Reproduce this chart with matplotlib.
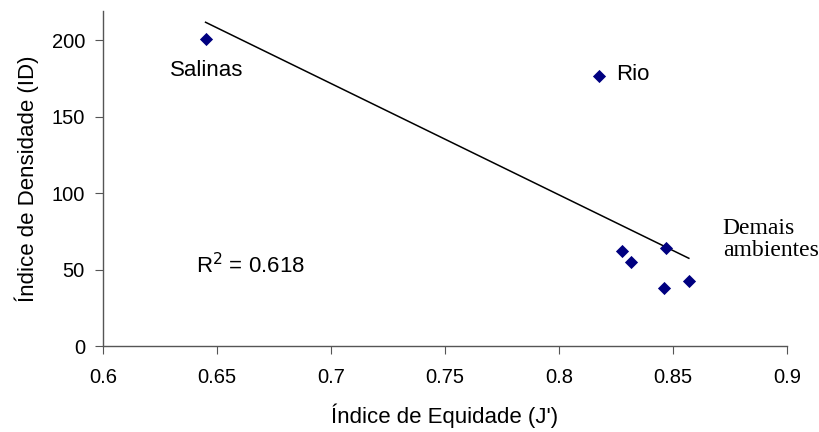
import numpy as np
import matplotlib
matplotlib.use("Agg")
import matplotlib.pyplot as plt

plt.rcParams['font.family'] = ['Liberation Sans', 'DejaVu Sans']

equidade = [0.645, 0.8175, 0.8276, 0.8316, 0.8469, 0.8463, 0.857]
densidade = [201, 176.5, 62.1, 55.1, 64.3, 37.9, 42.7]
r2_text = "R$^2$ = 0.618"
x_ticks = [0.6, 0.65, 0.7, 0.75, 0.8, 0.85, 0.9]
y_ticks = [0, 50, 100, 150, 200]

fig = plt.figure(figsize=(8.2, 4.32), dpi=100)
ax = fig.add_axes([0.1256, 0.199, 0.834, 0.7755])

ax.scatter(equidade, densidade, marker='D', s=45, color='#000080', zorder=3, linewidths=0)

x = np.array(equidade)
y = np.array(densidade)
m, b = np.polyfit(x, y, 1)
xs = np.linspace(x.min(), x.max(), 50)
ax.plot(xs, m * xs + b, color='black', lw=1.1, zorder=2)

ax.set_xlim(0.6, 0.9)
ax.set_ylim(0, 219)
ax.set_xticks(x_ticks)
ax.set_xticklabels([f"{v:g}" for v in x_ticks])
ax.set_yticks(y_ticks)
for s in ['top', 'right']:
    ax.spines[s].set_visible(False)
for s in ['left', 'bottom']:
    ax.spines[s].set_color('#555555')
    ax.spines[s].set_linewidth(1.0)
ax.tick_params(direction='out', length=6, color='#555555', labelsize=14.5)
ax.tick_params(axis='x', pad=10)
ax.tick_params(axis='y', pad=7)

ax.set_xlabel("Índice de Equidade (J')", fontsize=16, labelpad=12)
ax.set_ylabel("Índice de Densidade (ID)", fontsize=16, labelpad=9)

ax.text(0.6454, 180.4, "Salinas", fontsize=16, ha='center', va='center')
ax.text(0.825, 177.8, "Rio", fontsize=16, ha='left', va='center')
ax.text(0.8719, 69.5, "Demais\nambientes", fontsize=17, ha='left', va='center',
        family=['Liberation Serif', 'DejaVu Serif'], linespacing=1.05)
ax.text(0.6408, 52.9, r2_text, fontsize=16, ha='left', va='center')

fig.savefig("out.png", dpi=100)
